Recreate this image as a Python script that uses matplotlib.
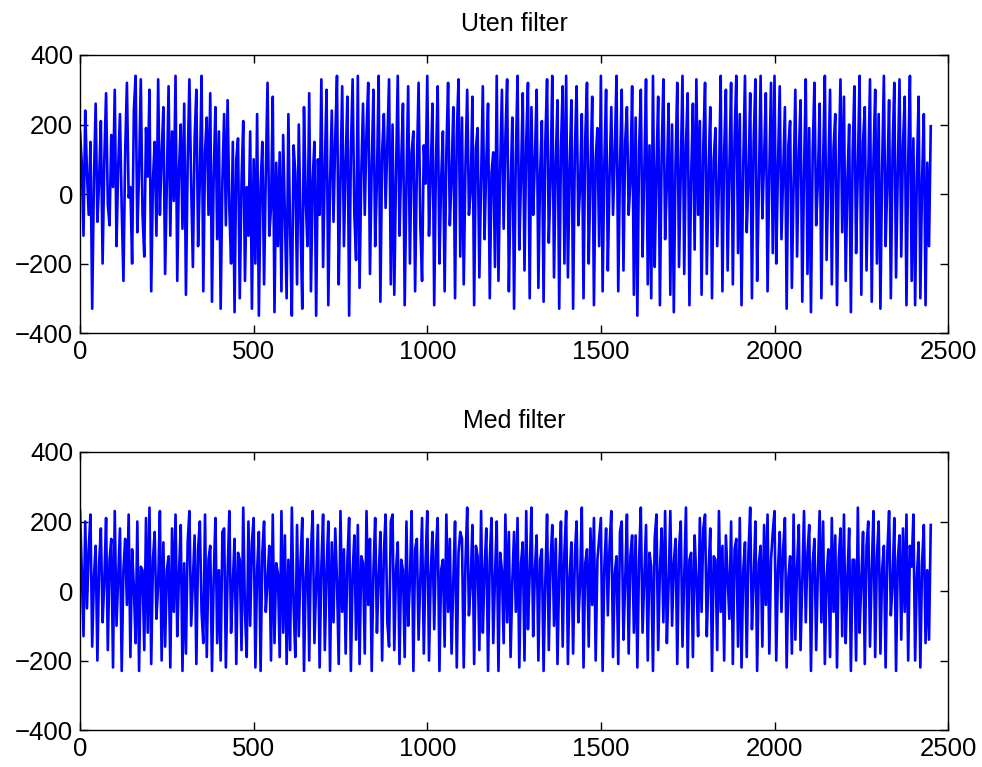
import numpy as np
import matplotlib.pyplot as plt

plt.rcParams['font.family'] = ['Liberation Sans', 'DejaVu Sans']

# signal sampled every 5 steps, no filter
uten = [
    180, 90, -120, 240, 60, -60, 150, -330, 40, 260, -80, 40, 210, -200, 100, 290, -30, -90, 170, 20,
    300, -150, 80, 230, -40, -250, 120, 320, -10, 20, -200, 240, 340, -110, 60, 330, -60, -180, 190, 50,
    300, -280, 40, 150, -120, 330, -60, 110, 250, -230, 30, 310, -120, 180, -20, 340, -250, 70, 200, -100,
    260, -290, 90, 330, 30, -210, 160, 300, -150, 40, 340, -280, 120, 220, -60, 290, -310, 60, 250, -130,
    180, -330, 40, 230, -90, 270, -40, -200, 150, -340, 100, 160, -300, 30, 210, -250, 20, -120, 180, -330,
    100, -200, 230, -350, 20, 150, -260, 60, 320, -120, -40, 280, -340, 90, -150, 120, -280, 170, -60, -300,
    230, -110, -350, 140, 60, -260, 200, -80, -330, 250, -20, -150, 290, -280, 40, 150, -350, 100, -60, 330,
    -210, 80, 300, -320, 30, 240, -80, 160, 340, -260, 40, 310, -150, 90, 280, -350, 120, 330, -60, -190,
    340, -270, 60, 260, -60, 180, 320, -230, 80, 300, -150, 40, 340, -310, 120, 230, -40, 150, 330, -260,
    200, -290, 60, 340, -120, 90, 260, -320, 30, 310, -200, 120, 180, -280, 70, 320, -90, -250, 140, 30,
    340, -120, 60, 260, -320, 90, 310, -200, 40, 180, -280, 120, 320, -90, 50, 250, -300, 170, 330, -180,
    220, -260, 80, 300, -60, 10, 280, -320, 130, 190, -240, 40, 310, -130, 90, 260, -300, 60, 120, -210,
    340, -250, 70, 300, -100, 160, 330, -280, 20, 220, -330, 110, 340, -160, 50, 290, -220, 150, 320, -300,
    250, -60, 100, 300, -270, 60, 210, -310, 150, 330, -140, 40, 340, -240, 90, 270, -330, 130, 310, -200,
    340, -240, 70, 270, -330, 120, 310, -90, 20, 230, -300, 160, 320, -200, 60, 280, -320, 100, 190, -150,
    340, -280, 90, 300, -220, 50, 250, -60, 120, 340, -280, 80, 300, -220, 150, 250, -60, 40, 310, -290,
    220, -350, 130, 300, -180, 60, 330, -260, 140, -300, 340, -210, 70, 280, -320, 110, 330, -130, 30, 260,
    -290, 200, -340, 90, 320, -210, 60, 340, -230, 140, 290, -320, 50, 260, -160, 330, -60, 210, -290, 140,
    320, -230, 60, 250, -300, 100, 190, -150, 30, 340, -280, 120, 300, -220, 70, 320, -260, 160, 340, -170,
    230, -320, 80, 340, -110, 40, 290, -300, 150, 330, -250, 20, 340, -70, 100, 290, -280, 60, 320, -170,
    340, -200, 80, 310, -130, 60, 250, -330, 140, 210, -270, 30, 300, -180, 110, 270, -310, 60, 330, -230,
    190, -340, 120, 320, -90, 40, 260, -300, 90, 340, -190, 60, 300, -260, 130, 230, -320, 80, 330, -110,
    280, -250, 40, 200, -340, 110, 310, -170, 70, 340, -290, 150, 250, -220, 60, 330, -310, 100, 300, -200,
    230, -330, 80, 340, -150, 40, 270, -300, 120, 320, -240, 60, 330, -180, 140, 280, -320, 90, 340, -250,
    160, -320, 60, 280, -300, 40, 230, -320, 90, -150, 195,
]

# the same signal after the filter
med = [
    230, 60, -130, 200, -50, 120, 220, -160, 40, 130, -200, 80, 180, -90, 30, 210, -170, 90, 150, -220,
    230, -100, 40, 180, -230, 60, 150, -40, 220, -190, 120, 10, -150, 200, -230, 70, 60, -170, 210, -120,
    240, -210, 90, 170, -80, 20, 230, -200, 140, -160, 60, 100, -220, 180, -60, 220, -130, 50, 190, -230,
    80, -180, 140, 230, -100, 30, 160, -210, 120, 200, -60, -150, 220, -190, 90, 130, -230, 40, 210, -150,
    60, -200, 170, 180, -220, 50, 230, -120, 20, 150, -210, 110, 90, -170, 240, -60, -190, 200, -100, 140,
    210, -220, 60, 170, -230, 110, 200, -60, 30, 130, -200, 220, -150, 80, 50, -190, 230, -120, 160, -210,
    90, -170, 240, -40, -190, 190, -130, 80, 210, -230, 40, 150, -200, 110, 230, -150, 20, 190, -220, 70,
    220, -170, 60, 200, -230, 140, -90, 180, 30, -210, 230, -60, 120, -180, 90, 210, -230, 50, 160, -140,
    190, -210, 100, 80, -180, 230, -40, 150, -230, 60, 210, -120, 40, 170, -200, 110, 220, -90, -160, 200,
    220, -170, 60, 140, -210, 90, 60, -190, 200, -100, 30, 230, -230, 120, 150, -140, 40, 210, -180, 80,
    230, -200, 50, 170, -110, 120, 210, -230, 60, 90, -160, 220, -60, 150, -180, 30, 200, -220, 110, 170,
    150, -220, 80, 240, -70, 20, 190, -210, 130, 100, -170, 230, -120, 60, 180, -230, 90, 210, -150, 40,
    200, -230, 110, 60, -150, 220, -90, 170, -190, 30, 170, -60, 210, -220, 80, 140, -200, 230, -110, 50,
    240, -130, 60, 160, -200, 90, 120, -230, 30, 220, -170, 80, 190, -100, 150, -210, 60, 200, -160, 110,
    230, -210, 40, 140, -180, 100, 200, -90, 20, 240, -220, 80, 120, -160, 180, -40, 210, -200, 90, 150,
    210, -230, 70, 180, -70, 130, 230, -190, 50, 100, -210, 170, 200, -140, 30, 220, -180, 100, 160, -120,
    160, -220, 90, 240, -120, 40, 190, -200, 110, 70, -230, 150, 220, -170, 60, 180, -90, 230, -150, 20,
    230, -100, 80, 150, -210, 120, 200, -160, 40, 240, -220, 90, 110, -190, 160, 30, -130, 210, -60, 180,
    220, -130, 50, 180, -230, 100, 90, -170, 230, -60, 130, -200, 160, 40, -80, 200, -210, 120, 150, -160,
    210, -220, 60, 140, -190, 110, 240, -110, 30, 200, -230, 80, 130, -160, 190, -40, 220, -180, 90, 170,
    230, -200, 60, 170, -60, 120, 210, -220, 40, 100, -180, 220, -140, 70, 190, -170, 30, 230, -90, 110,
    190, -230, 80, 150, -170, 60, 230, -90, 200, -210, 40, 120, -190, 210, -60, 160, -220, 90, 180, -130,
    220, -150, 40, 180, -230, 90, 90, -200, 240, -120, 30, 170, -210, 130, 200, -160, 60, 230, -190, 100,
    200, -180, 60, 130, -220, 110, 230, -70, 20, 210, -230, 90, 160, -140, 180, -60, 220, -200, 130, 70,
    220, -200, 40, 140, -220, 80, 190, -150, 60, -140, 190,
]

titles = ['Uten filter', 'Med filter']
step = 5

fig = plt.figure(figsize=(9.82, 7.67), dpi=100)
ax1 = fig.add_axes([0.0815, 0.5658, 0.884, 0.3625])
ax2 = fig.add_axes([0.0815, 0.0482, 0.884, 0.3625])

for ax, sig, title in zip([ax1, ax2], [uten, med], titles):
    x = np.arange(len(sig)) * step
    ax.plot(x, sig, color='#0000ff', linewidth=1.9)
    ax.set_xlim(0, 2500)
    ax.set_ylim(-400, 400)
    ax.set_xticks(range(0, 2501, 500))
    ax.set_yticks(range(-400, 401, 200))
    ax.tick_params(direction='in', top=True, right=True, labelsize=18.5,
                   length=6, width=1, pad=5)
    for s in ax.spines.values():
        s.set_linewidth(1)
    ax.set_title(title, fontsize=18, pad=17)

fig.savefig('out.png', dpi=100)
